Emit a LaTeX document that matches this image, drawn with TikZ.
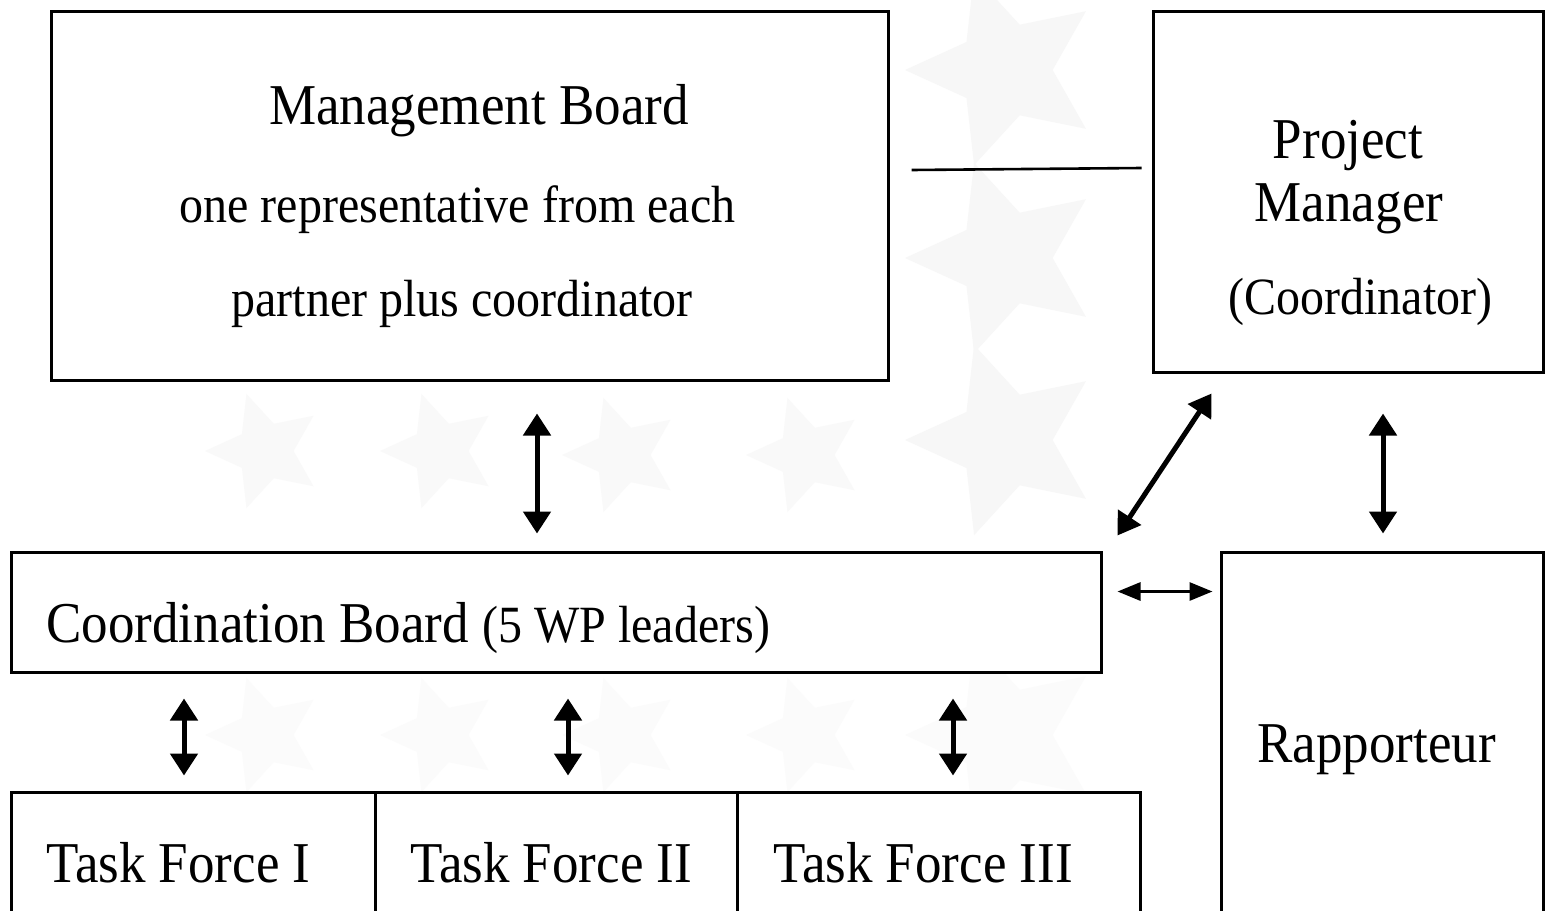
\documentclass[tikz,border=0pt]{standalone}
\usepackage{fontspec}
\setmainfont{Liberation Serif}
\usetikzlibrary{arrows.meta,calc,shapes.geometric}
\newcommand{\talltxt}[1]{\scalebox{1}[1.09]{#1}}
\begin{document}
\begin{tikzpicture}[x=0.5pt,y=-0.5pt,
  box/.style={draw=black, line width=1.5pt, fill=white, inner sep=0pt},
  big/.style={font=\fontsize{26.5}{30}\selectfont, inner sep=0pt},
  small/.style={font=\fontsize{24}{28}\selectfont, inner sep=0pt},
  dbl/.style={line width=2.5pt, {Triangle[width=13.5pt,length=11pt]}-{Triangle[width=13.5pt,length=11pt]}},
  thindbl/.style={line width=1.5pt, {Triangle[width=9pt,length=11.5pt]}-{Triangle[width=9pt,length=11.5pt]}},
  bgstar/.style={star, star points=5, star point ratio=2.1, shape border rotate=90, fill=gray!5, draw=none, inner sep=0pt},
]
\useasboundingbox (0,0) rectangle (1550,910);
\clip (0,0) rectangle (1550,910);
\fill[white] (0,0) rectangle (1550,910);

% faint background stars
\foreach \n/\sx/\sy in {a/265/451, b/440/451, c/622/455, d/806/455}
  \node[bgstar, minimum size=60pt] (star\n) at (\sx,\sy) {};
\foreach \n/\sx/\sy in {e/265/735, f/440/735, g/622/735, h/806/735}
  \node[bgstar, fill=gray!3, minimum size=60pt] (star\n) at (\sx,\sy) {};
\foreach \n/\sx/\sy in {i/1005/70, j/1005/258, k/1005/440}
  \node[bgstar, fill=gray!6, minimum size=100pt] (star\n) at (\sx,\sy) {};
\node[bgstar, fill=gray!3, minimum size=100pt] (starl) at (1005,735) {};

% boxes
\node[box, minimum width=418.5pt, minimum height=184.5pt] (mb) at (469.5,195.5) {};
\node[box, minimum width=195pt, minimum height=180.5pt] (pm) at (1348,191.5) {};
\node[box, minimum width=545pt, minimum height=60pt] (cb) at (556,612) {};
\node[box, minimum width=161pt, minimum height=224pt] (rap) at (1382,776) {};
\node[box, minimum width=182pt, minimum height=104pt] (tf1) at (193,896) {};
\node[box, minimum width=181pt, minimum height=104pt] (tf2) at (556,896) {};
\node[box, minimum width=201.5pt, minimum height=104pt] (tf3) at (938.5,896) {};

% texts
\node[big, anchor=base] (tmb1) at (479,124) {\talltxt{Management Board}};
\node[small, anchor=base] (tmb2) at (457.5,222) {\talltxt{one representative from each}};
\node[small, anchor=base] (tmb3) at (462,316) {\talltxt{partner plus coordinator}};
\node[big, anchor=base] (tpm1) at (1348,158) {\talltxt{Project}};
\node[big, anchor=base] (tpm2) at (1349,221) {\talltxt{Manager}};
\node[small, anchor=base] (tpm3) at (1360.5,314) {\talltxt{(Coordinator)}};
\node[big, anchor=base west] (tcb) at (46,642) {\talltxt{Coordination Board \fontsize{24}{28}\selectfont(5 WP leaders)}};
\node[big, anchor=base] (trap) at (1376.5,762) {\talltxt{Rapporteur}};
\node[big, anchor=base west] (ttf1) at (46,882) {\talltxt{Task Force I}};
\node[big, anchor=base west] (ttf2) at (410,882) {\talltxt{Task Force II}};
\node[big, anchor=base west] (ttf3) at (773,882) {\talltxt{Task Force III}};

% connectors
\draw[line width=1.3pt] ($(mb.east)+(22,-25.5)$) -- ($(pm.west)+(-10,-23.5)$);
\draw[dbl] ($(mb.south)+(67.5,32)$) -- ($(cb.north)+(-19,-17)$);
\draw[dbl] ($(pm.south)+(35,40)$) -- ($(rap.north)+(1,-17)$);
\draw[dbl] ($(pm.south west)+(60,20)$) -- ($(cb.north east)+(15,-15)$);
\draw[thindbl] ($(cb.north east)+(15,41)$) -- ($(rap.north west)+(-7,41)$);
\draw[dbl] ($(cb.south -| tf1.north)+(-9,25)$) -- ($(tf1.north)+(-9,-15)$);
\draw[dbl] ($(cb.south -| tf2.north)+(12,25)$) -- ($(tf2.north)+(12,-15)$);
\draw[dbl] ($(cb.south -| tf3.north)+(14.5,25)$) -- ($(tf3.north)+(14.5,-15)$);
\end{tikzpicture}
\end{document}
